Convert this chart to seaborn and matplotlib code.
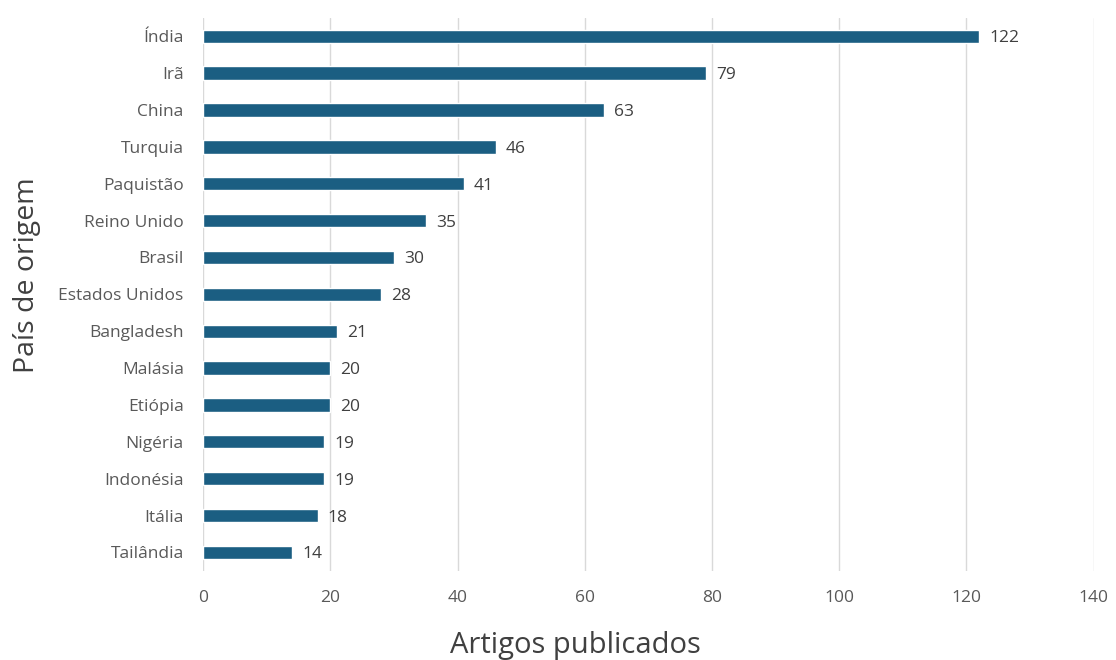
import matplotlib
matplotlib.use("Agg")
import matplotlib.pyplot as plt
import seaborn as sns
import pandas as pd

countries = ["Índia", "Irã", "China", "Turquia", "Paquistão", "Reino Unido", "Brasil",
             "Estados Unidos", "Bangladesh", "Malásia", "Etiópia", "Nigéria", "Indonésia",
             "Itália", "Tailândia"]
articles = [122, 79, 63, 46, 41, 35, 30, 28, 21, 20, 20, 19, 19, 18, 14]
xticks = [0, 20, 40, 60, 80, 100, 120, 140]

sns.set_theme(style="white")
plt.rcParams['font.family'] = ['Open Sans', 'DejaVu Sans']

df = pd.DataFrame({"country": countries, "articles": articles})

fig = plt.figure(figsize=(11.16, 6.6), dpi=100)
ax = fig.add_axes([0.182, 0.135, 0.798, 0.838])
sns.barplot(data=df, y="country", x="articles", color="#1b5e82", width=0.36,
            saturation=1, ax=ax, orient="h")

ax.set_xlim(0, 140)
ax.set_xticks(xticks)
ax.xaxis.grid(True, color="#d9d9d9", linewidth=1)
ax.set_axisbelow(True)
for s in ax.spines.values():
    s.set_visible(False)
ax.tick_params(axis="both", length=0, labelsize=12.5, labelcolor="#595959")
ax.tick_params(axis="x", pad=14)
ax.tick_params(axis="y", pad=14)

for i, v in enumerate(articles):
    ax.text(v + 1.6, i, str(v), va="center_baseline", ha="left", fontsize=12.5, color="#404040")

ax.set_xlabel("")
ax.set_ylabel("")
fig.text(575 / 1116, 1 - 645 / 660, "Artigos publicados", fontsize=21, color="#404040",
         ha="center", va="center")
fig.text(27 / 1116, 1 - 275 / 660, "País de origem", fontsize=20.5, color="#404040",
         ha="center", va="center", rotation=90)

fig.savefig("out.png", dpi=100)
